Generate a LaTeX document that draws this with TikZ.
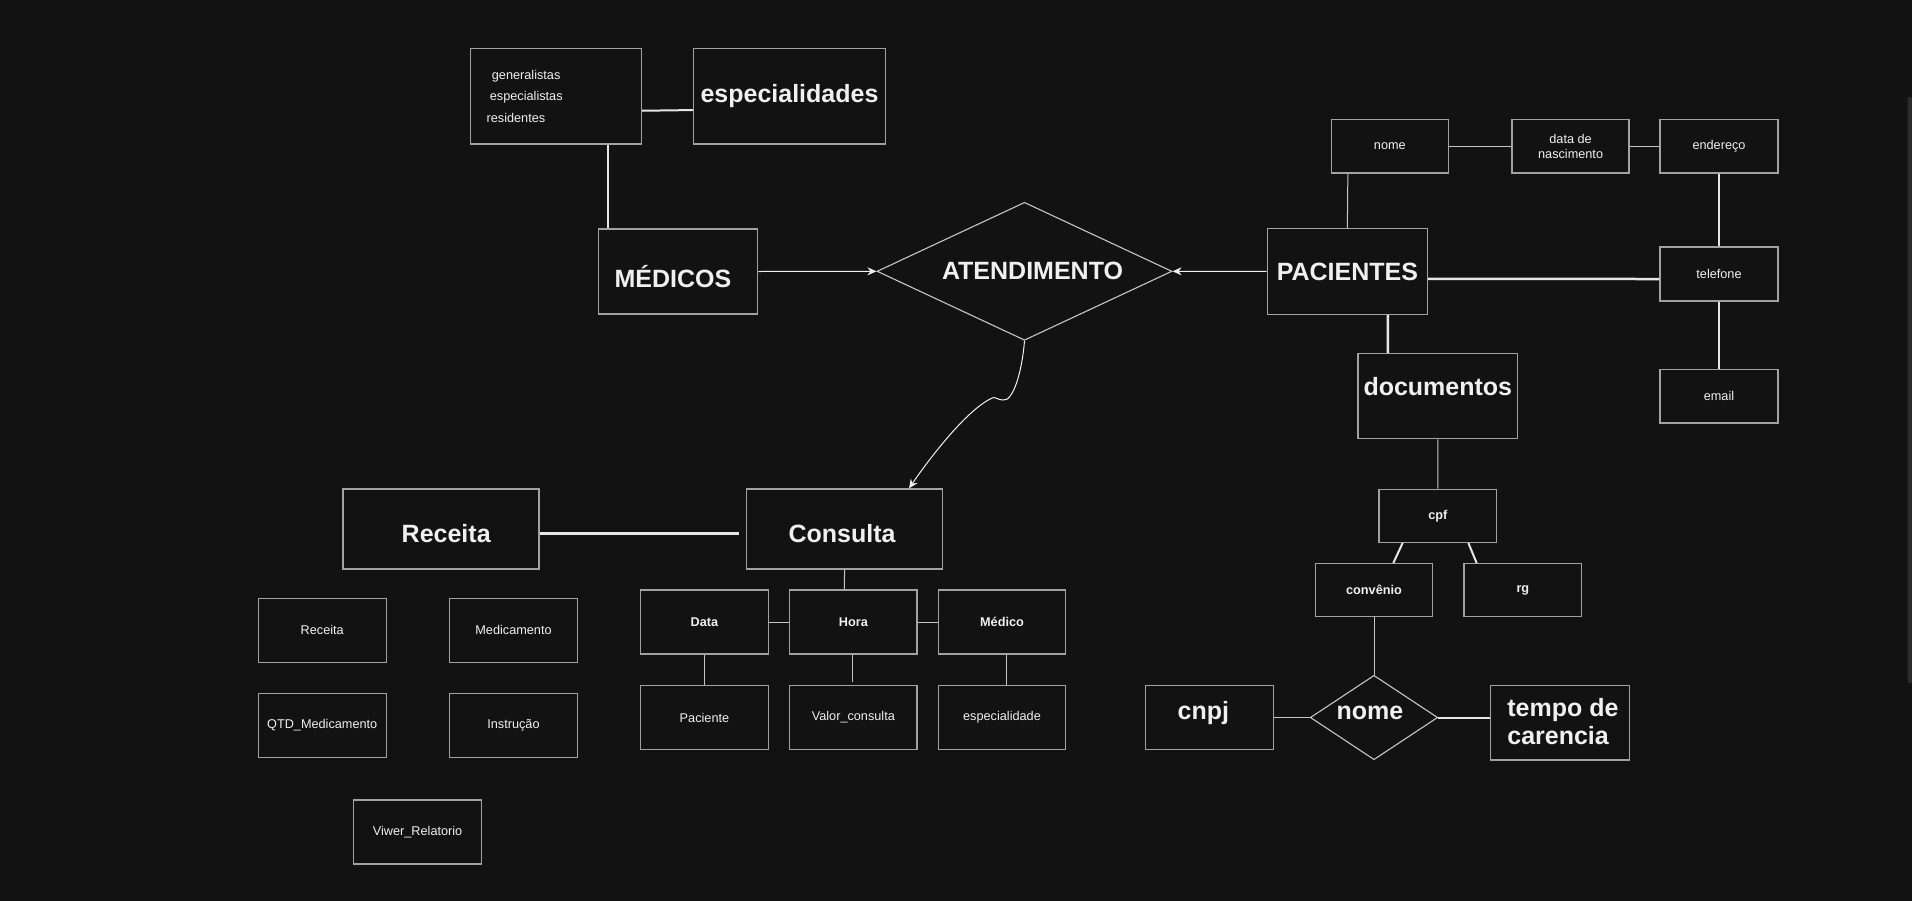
\documentclass[tikz,border=0pt]{standalone}
\usepackage{fontspec}
\setmainfont{Liberation Sans}
\usetikzlibrary{shapes.geometric,arrows.meta,positioning}
\definecolor{bgdark}{HTML}{121212}
\definecolor{boxline}{HTML}{A2A2A2}
\definecolor{thinline}{HTML}{C6C6C6}
\definecolor{thickline}{HTML}{E6E6E6}
\definecolor{inkwhite}{HTML}{F0F0F0}
\definecolor{scrollgray}{HTML}{2B2B2B}
\newcommand\bigfont{\fontsize{25}{28.3}\selectfont\bfseries}
\newcommand\smallfont{\fontsize{12.7}{15}\selectfont}
\newcommand\listfont{\fontsize{12.7}{21.7}\selectfont}

\begin{document}
\begin{tikzpicture}[x=1pt, y=-1pt,
    box/.style={rectangle, draw=boxline, line width=1.3pt, fill=bgdark, inner sep=0pt, text=inkwhite},
    entity/.style={box, font=\bigfont},
    attr/.style={box, font=\smallfont},
    key/.style={box, font=\smallfont\bfseries},
    rel/.style={diamond, draw=thinline, line width=1.1pt, fill=bgdark, inner sep=0pt},
    bigtxt/.style={text=inkwhite, font=\bigfont},
    link/.style={draw=thinline, line width=1pt},
    bold link/.style={draw=thickline, line width=2.5pt},
    flow/.style={draw=inkwhite, line width=1pt, -{Stealth[length=9pt,width=8pt,inset=3pt]}},
  ]
  \useasboundingbox (0,0) rectangle (1912,900);
  \fill[bgdark] (-4,-4) rectangle (1916,904);
  \fill[scrollgray, rounded corners=2pt] (1907.5,97) rectangle (1914,683);

  % ------------------------------------------------------------------ medicos
  \node[box, minimum width=170.5pt, minimum height=95.5pt,
        label={[text=inkwhite, font=\listfont, align=left, anchor=west, xshift=13pt]west:%
          \hspace*{5.3pt}generalistas\\\hspace*{3.3pt}especialistas\\residentes}] (gen) at (556,96.25) {};
  \node[entity, minimum width=191.6pt, minimum height=95.5pt] (esp) at (789.5,96.25) {especialidades};
  \node[entity, minimum width=159.4pt, minimum height=85pt,
        label={[bigtxt, xshift=-5pt, yshift=-5.5pt]center:MÉDICOS}] (med) at (678,271.5) {};

  % ------------------------------------------------------------------ atendimento
  \node[rel, minimum width=295pt, minimum height=138pt,
        label={[bigtxt, xshift=8pt]center:ATENDIMENTO}] (aten) at (1024.5,271.3) {};

  % ------------------------------------------------------------------ pacientes
  \node[entity, minimum width=160.3pt, minimum height=85.5pt] (pac) at (1347.35,271.45) {PACIENTES};
  \node[attr, minimum width=117.1pt, minimum height=53.3pt] (pnome) at (1389.85,146.35) {nome};
  \node[attr, minimum width=117pt, minimum height=53.3pt, align=center] (pdata) at (1570.6,146.35) {data de\\nascimento};
  \node[attr, minimum width=117.8pt, minimum height=53.3pt] (pend) at (1719,146.35) {endereço};
  \node[attr, minimum width=118pt, minimum height=54pt] (ptel) at (1719,274) {telefone};
  \node[attr, minimum width=118pt, minimum height=53.7pt] (pemail) at (1719,396.2) {email};
  \node[entity, minimum width=159.8pt, minimum height=85.2pt,
        label={[bigtxt, yshift=10pt]center:documentos}] (docs) at (1437.8,396.1) {};
  \node[key, minimum width=117.7pt, minimum height=53pt] (cpf) at (1437.85,515.8) {cpf};
  \node[key, minimum width=117.4pt, minimum height=53pt] (conv) at (1374,590.2) {convênio};
  \node[key, minimum width=117.7pt, minimum height=53pt] (rg) at (1522.85,590.2) {rg};
  \node[rel, minimum width=127.4pt, minimum height=84.4pt,
        label={[bigtxt, xshift=-4pt, yshift=4.8pt]center:nome}] (cnome) at (1374,717.5) {};
  \node[entity, minimum width=128pt, minimum height=63.6pt,
        label={[bigtxt, xshift=-6pt, yshift=4.2pt]center:cnpj}] (cnpj) at (1209.3,717.5) {};
  \node[entity, minimum width=138.8pt, minimum height=74.3pt, align=left,
        label={[bigtxt, align=left, xshift=3pt, yshift=1pt]center:tempo de\\carencia}] (tempo) at (1559.9,722.85) {};

  % ------------------------------------------------------------------ consulta
  \node[entity, minimum width=196pt, minimum height=80pt,
        label={[bigtxt, xshift=5.3pt, yshift=-5pt]center:Receita}] (rec) at (440.9,529) {};
  \node[entity, minimum width=195.5pt, minimum height=80pt,
        label={[bigtxt, xshift=-2.5pt, yshift=-5pt]center:Consulta}] (cons) at (844.55,529) {};

  \foreach \nm/\x/\y/\t in {data/704.45/622/Data, hora/853.35/622/Hora, cmed/1002/622/Médico}
    \node[key, minimum width=127.5pt, minimum height=64pt] (\nm) at (\x,\y) {\t};
  \foreach \nm/\x/\y/\t in {pacien/704.45/717.5/Paciente, valor/853.35/717.5/Valor\_consulta,
                            espec/1002/717.5/especialidade}
    \node[attr, minimum width=127.5pt, minimum height=63.6pt] (\nm) at (\x,\y) {\t};

  % receita fields
  \foreach \nm/\x/\y/\t in {srec/322.2/630.15/Receita, smed/513.5/630.15/Medicamento,
                            qtd/322.2/725.5/QTD\_Medicamento, instr/513.5/725.5/Instrução,
                            viwer/417.6/832/Viwer\_Relatorio}
    \node[attr, minimum width=128pt, minimum height=64pt] (\nm) at (\x,\y) {\t};

  % ------------------------------------------------------------------ connectors
  \draw[bold link, line width=2pt] ([yshift=-14.5pt]gen.east) -- ([yshift=-13.8pt]esp.west);
  \draw[bold link, line width=2pt] ([xshift=52.3pt]gen.south) -- ([xshift=-69.7pt]med.north);
  \draw[flow] (med.east) -- (aten.west);
  \draw[flow] (pac.west) -- (aten.east);
  \draw[flow] (aten.south) .. controls (1022,372) and (1013,402) .. (1003,400)
    .. controls (998,400) and (996,397) .. (993,397.7)
    .. controls (968,408) and (929,459) .. ([xshift=64.5pt]cons.north);

  \draw[link] ([xshift=-42pt]pnome.south) -- (pac.north);
  \draw[link] (pnome) -- (pdata);
  \draw[link] (pdata) -- (pend);
  \draw[bold link] (pend) -- (ptel);
  \draw[bold link] (ptel) -- (pemail);
  \draw[bold link] ([yshift=-7.5pt]pac.east) -- ([yshift=-5pt]ptel.west);
  \draw[bold link] ([xshift=40.5pt]pac.south) -- ([xshift=-50pt]docs.north);
  \draw[link] (docs) -- (cpf);
  \draw[bold link, line width=2pt] ([xshift=-35.2pt]cpf.south) -- ([xshift=19.3pt]conv.north);
  \draw[bold link, line width=2pt] ([xshift=30.5pt]cpf.south) -- ([xshift=-46.2pt]rg.north);
  \draw[link] (conv) -- (cnome);
  \draw[link] (cnpj.east) -- (cnome.west);
  \draw[bold link, line width=2pt] (cnome.east) -- (cnome.east -| tempo.west);

  \draw[bold link] ([yshift=-4.7pt]rec.east) -- ([xshift=-7pt,yshift=-4.7pt]cons.west);
  \draw[link] (cons.south) -- ([xshift=-9pt]hora.north);
  \draw[link] (data) -- (hora);
  \draw[link] (hora) -- (cmed);
  \draw[link] (data) -- (pacien);
  \draw[link] ([xshift=-0.5pt]hora.south) -- ([xshift=-0.5pt,yshift=3.4pt]valor.north);
  \draw[link] ([xshift=4pt]cmed.south) -- ([xshift=4pt]espec.north);

\end{tikzpicture}
\end{document}
